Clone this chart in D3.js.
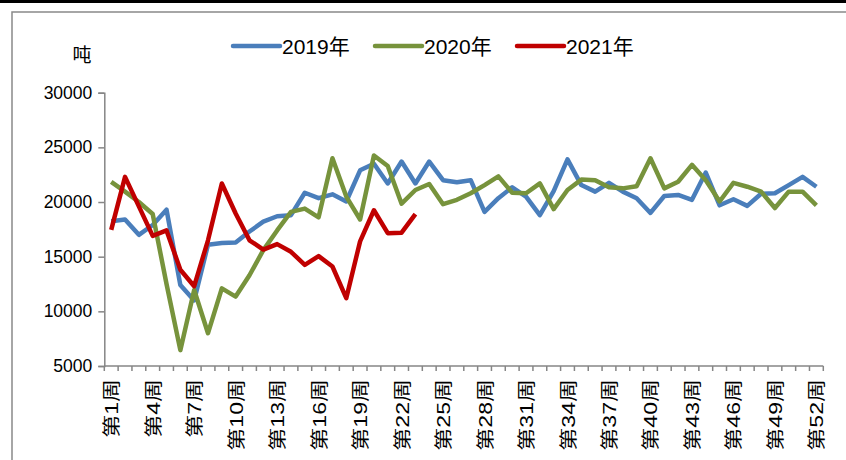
<!DOCTYPE html>
<html>
<head>
<meta charset="utf-8">
<script src="https://cdn.jsdelivr.net/npm/d3@7"></script>
<style>
  body { margin: 0; background: #fff; }
  svg text { font-family: "Liberation Sans", "Noto Sans CJK SC", sans-serif; fill: #000; }
</style>
</head>
<body>
<svg id="chart" width="846" height="460"></svg>
<script>
// weekly values, tons
var weeks = d3.range(1, 53).map(function(i) { return "第" + i + "周"; });
var y2019 = [18250, 18400, 17000, 17900, 19300, 12400, 11000, 16100, 16250, 16300,
             17300, 18200, 18700, 18800, 20850, 20350, 20700, 20050, 22900, 23500,
             21700, 23700, 21700, 23700, 22000, 21800, 22000, 19100, 20350, 21350,
             20500, 18800, 21000, 23900, 21550, 20950, 21750, 20950, 20350, 19000,
             20550, 20650, 20200, 22700, 19700, 20250, 19650, 20750, 20800, 21550,
             22300, 21400];
var y2020 = [21850, 20950, 20000, 18900, 12500, 6450, 11950, 8000, 12100, 11350,
             13300, 15600, 17400, 19100, 19400, 18600, 24000, 20500, 18400, 24250,
             23300, 19850, 21100, 21650, 19800, 20200, 20800, 21550, 22350, 20850,
             20800, 21700, 19350, 21100, 22050, 22000, 21350, 21250, 21450, 24000,
             21250, 21850, 23400, 22000, 20050, 21750, 21400, 20950, 19450, 20950,
             20950, 19700];
var y2021 = [17450, 22300, 19600, 16900, 17400, 13800, 12300, 16500, 21700, 18950,
             16500, 15650, 16150, 15450, 14250, 15050, 14100, 11200, 16400, 19250,
             17150, 17200, 18900];
var yTicks = [5000, 10000, 15000, 20000, 25000, 30000];
var xLabelEvery = 3;

var series = [
  {name: "2019年", values: y2019, color: "#4A7EBB"},
  {name: "2020年", values: y2020, color: "#77933C"},
  {name: "2021年", values: y2021, color: "#C00000"}
];

var svg = d3.select("#chart");

// outer frame
svg.append("rect").attr("x", 0).attr("y", 0).attr("width", 846).attr("height", 3).attr("fill", "#000");
svg.append("rect").attr("x", 12).attr("y", 12).attr("width", 850).attr("height", 470)
    .attr("fill", "none").attr("stroke", "#898989").attr("stroke-width", 1.5);

var plotLeft = 104.3, plotRight = 823.3, plotTop = 92.7, plotBottom = 366;

var x = d3.scaleBand().domain(weeks).range([plotLeft, plotRight]);
var y = d3.scaleLinear().domain([5000, 30000]).range([plotBottom, plotTop]);

// y axis
var yAxis = d3.axisLeft(y).tickValues(yTicks).tickSize(6).tickPadding(6).tickFormat(d3.format("d"));
var gy = svg.append("g").attr("transform", "translate(" + plotLeft + ",0)").call(yAxis);
gy.select(".domain").attr("stroke", "#868686").attr("stroke-width", 1.5);
gy.selectAll(".tick line").attr("stroke", "#868686").attr("stroke-width", 1.5);
gy.selectAll(".tick text").style("font-size", "17.5px").attr("fill", "#000");

// x axis: ticks at category boundaries
svg.append("line").attr("x1", plotLeft).attr("x2", plotRight).attr("y1", plotBottom).attr("y2", plotBottom)
    .attr("stroke", "#868686").attr("stroke-width", 1.5);
svg.selectAll(".xtick")
  .data(d3.range(0, weeks.length + 1))
  .enter().append("line")
    .attr("class", "xtick")
    .attr("x1", function(i) { return plotLeft + i * x.step(); })
    .attr("x2", function(i) { return plotLeft + i * x.step(); })
    .attr("y1", plotBottom).attr("y2", plotBottom + 5)
    .attr("stroke", "#868686").attr("stroke-width", 1.5);

svg.selectAll(".xlab")
  .data(weeks.filter(function(d, i) { return i % xLabelEvery == 0; }))
  .enter().append("text")
    .attr("class", "xlab")
    .attr("transform", function(d) {
      return "translate(" + (x(d) + x.bandwidth() / 2 + 7) + "," + (plotBottom + 13) + ") rotate(-90) scale(1.28,1)";
    })
    .attr("text-anchor", "end")
    .style("font-size", "18px")
    .text(function(d) { return d; });

// unit label
svg.append("text").attr("x", 82).attr("y", 62).attr("text-anchor", "middle")
    .style("font-size", "19px").text("吨");

// lines
var line = d3.line()
    .x(function(d, i) { return x(weeks[i]) + x.bandwidth() / 2; })
    .y(function(d) { return y(d); });

svg.selectAll(".series")
  .data(series)
  .enter().append("path")
    .attr("class", "series")
    .attr("fill", "none")
    .attr("stroke", function(d) { return d.color; })
    .attr("stroke-width", 4.5)
    .attr("stroke-linejoin", "round")
    .attr("d", function(d) { return line(d.values); });

// legend
var legendX = [233, 375, 517];
var lg = svg.selectAll(".legend")
  .data(series)
  .enter().append("g")
    .attr("class", "legend")
    .attr("transform", function(d, i) { return "translate(" + legendX[i] + ",46)"; });
lg.append("line").attr("x1", 0).attr("x2", 47).attr("y1", 0).attr("y2", 0)
    .attr("stroke", function(d) { return d.color; }).attr("stroke-width", 4.5).attr("stroke-linecap", "round");
lg.append("text").attr("x", 49).attr("y", 8)
    .style("font-size", "21px")
    .text(function(d) { return d.name; });
</script>
</body>
</html>
